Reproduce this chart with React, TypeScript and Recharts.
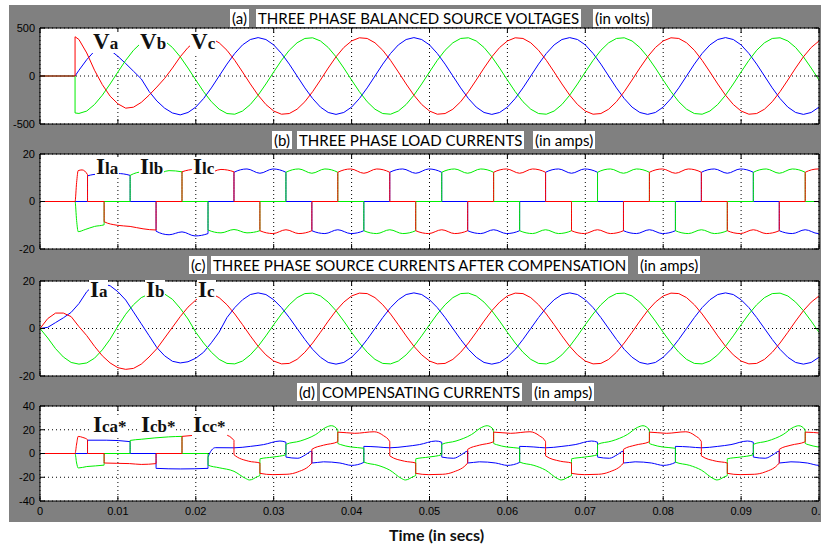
import React from 'react';
import { LineChart, Line, XAxis, YAxis, CartesianGrid } from 'recharts';

const RED = '#ff0000';
const GREEN = '#00ee00';
const BLUE = '#0000ff';
const FRAME = '#000';

const timeTicks = [0, 0.01, 0.02, 0.03, 0.04, 0.05, 0.06, 0.07, 0.08, 0.09, 0.1];
const timeTickLabels = ['0', '0.01', '0.02', '0.03', '0.04', '0.05', '0.06', '0.07', '0.08', '0.09', '0.1'];

// (a) source voltages, sampled every ms from 5 ms (after the switch-on at 4.5 ms)
const voltTime = [0, 0.0045, 0.0045, ...Array.from({ length: 96 }, (_, i) => (5 + i) / 1000)];
const va = [0, 0, 0,
  60, 170, 260, 290, 270,
  205, 130, 50, -30, -160, -260, -335, -385, -405, -380,
  -324, -235, -124, 0, 124, 235, 324, 380, 400, 380,
  324, 235, 124, 0, -124, -235, -324, -380, -400, -380,
  -324, -235, -124, 0, 124, 235, 324, 380, 400, 380,
  324, 235, 124, 0, -124, -235, -324, -380, -400, -380,
  -324, -235, -124, 0, 124, 235, 324, 380, 400, 380,
  324, 235, 124, 0, -124, -235, -324, -380, -400, -380,
  -324, -235, -124, 0, 124, 235, 324, 380, 400, 380,
  324, 235, 124, 0, -124, -235, -324, -380, -400, -380,
  -324];
const vb = [0, 0, -385,
  -390, -365, -297, -200, -83,
  42, 163, 268, 346, 391, 398, 365, 297, 200, 83,
  -42, -163, -268, -346, -391, -398, -365, -297, -200, -83,
  42, 163, 268, 346, 391, 398, 365, 297, 200, 83,
  -42, -163, -268, -346, -391, -398, -365, -297, -200, -83,
  42, 163, 268, 346, 391, 398, 365, 297, 200, 83,
  -42, -163, -268, -346, -391, -398, -365, -297, -200, -83,
  42, 163, 268, 346, 391, 398, 365, 297, 200, 83,
  -42, -163, -268, -346, -391, -398, -365, -297, -200, -83,
  42, 163, 268, 346, 391, 398, 365, 297, 200, 83,
  -42];
const vc = [0, 0, 409,
  380, 240, 60, -90, -210,
  -290, -335, -325, -275, -200, -115, -25, 83, 200, 297,
  365, 398, 391, 346, 268, 163, 42, -83, -200, -297,
  -365, -398, -391, -346, -268, -163, -42, 83, 200, 297,
  365, 398, 391, 346, 268, 163, 42, -83, -200, -297,
  -365, -398, -391, -346, -268, -163, -42, 83, 200, 297,
  365, 398, 391, 346, 268, 163, 42, -83, -200, -297,
  -365, -398, -391, -346, -268, -163, -42, 83, 200, 297,
  365, 398, 391, 346, 268, 163, 42, -83, -200, -297,
  -365, -398, -391, -346, -268, -163, -42, 83, 200, 297,
  365];

// (b) load currents, [time, amps]
const ila: [number, number][] = [
  [0, 0], [0.0061, 0], [0.0061, 10.8], [0.0075, 11.5], [0.0085, 10.8], [0.0099, 11.8], [0.01157, 11], [0.01157, 0],
  [0.0149, 0], [0.0149, -12.5], [0.01657, -14], [0.01823, -12.8], [0.0199, -14.5], [0.02157, -13.5], [0.02157, 0],
  [0.0249, 0], [0.0249, 12.3], [0.02657, 13.7], [0.02823, 11.9], [0.0299, 13.7], [0.03157, 12.3], [0.03157, 0],
  [0.0349, 0], [0.0349, -12.3], [0.03657, -13.5], [0.03823, -11.9], [0.0399, -13.5], [0.04157, -12.3], [0.04157, 0],
  [0.0449, 0], [0.0449, 12.3], [0.04657, 13.7], [0.04823, 11.9], [0.0499, 13.7], [0.05157, 12.3], [0.05157, 0],
  [0.0549, 0], [0.0549, -12.3], [0.05657, -13.5], [0.05823, -11.9], [0.0599, -13.5], [0.06157, -12.3], [0.06157, 0],
  [0.0649, 0], [0.0649, 12.3], [0.06657, 13.7], [0.06823, 11.9], [0.0699, 13.7], [0.07157, 12.3], [0.07157, 0],
  [0.0749, 0], [0.0749, -12.3], [0.07657, -13.5], [0.07823, -11.9], [0.0799, -13.5], [0.08157, -12.3], [0.08157, 0],
  [0.0849, 0], [0.0849, 12.3], [0.08657, 13.7], [0.08823, 11.9], [0.0899, 13.7], [0.09157, 12.3], [0.09157, 0],
  [0.0949, 0], [0.0949, -12.3], [0.09657, -13.5], [0.09823, -11.9], [0.0999, -13.5], [0.1016, -12.3],
];
const ilb: [number, number][] = [
  [0, 0], [0.0045, 0], [0.0047, -8], [0.0049, -12.7], [0.0058, -11.8], [0.007, -10.5], [0.00823, -9.8], [0.00823, 0],
  [0.01157, 0], [0.01157, 11], [0.01323, 12.5], [0.0149, 11.5], [0.01657, 13], [0.01823, 12.5], [0.01823, 0],
  [0.02157, 0], [0.02157, -12], [0.02323, -13.2], [0.0249, -11.8], [0.02657, -13.2], [0.02823, -12.3], [0.02823, 0],
  [0.03157, 0], [0.03157, 12.3], [0.03323, 13.7], [0.0349, 11.9], [0.03657, 13.7], [0.03823, 12.3], [0.03823, 0],
  [0.04157, 0], [0.04157, -12.3], [0.04323, -13.5], [0.0449, -11.9], [0.04657, -13.5], [0.04823, -12.3], [0.04823, 0],
  [0.05157, 0], [0.05157, 12.3], [0.05323, 13.7], [0.0549, 11.9], [0.05657, 13.7], [0.05823, 12.3], [0.05823, 0],
  [0.06157, 0], [0.06157, -12.3], [0.06323, -13.5], [0.0649, -11.9], [0.06657, -13.5], [0.06823, -12.3], [0.06823, 0],
  [0.07157, 0], [0.07157, 12.3], [0.07323, 13.7], [0.0749, 11.9], [0.07657, 13.7], [0.07823, 12.3], [0.07823, 0],
  [0.08157, 0], [0.08157, -12.3], [0.08323, -13.5], [0.0849, -11.9], [0.08657, -13.5], [0.08823, -12.3], [0.08823, 0],
  [0.09157, 0], [0.09157, 12.3], [0.09323, 13.7], [0.0949, 11.9], [0.09657, 13.7], [0.09823, 12.3], [0.09823, 0], [0.1016, 0],
];
const ilc: [number, number][] = [
  [0, 0], [0.0045, 0], [0.0047, 8], [0.0049, 13], [0.0054, 13.3], [0.0061, 11.3], [0.0061, 0],
  [0.00823, 0], [0.00823, -8.5], [0.0099, -10], [0.01157, -10.5], [0.01323, -11.5], [0.0149, -12], [0.0149, 0],
  [0.01823, 0], [0.01823, 12.5], [0.0199, 13.5], [0.02157, 12], [0.02323, 13.5], [0.0249, 12.5], [0.0249, 0],
  [0.02823, 0], [0.02823, -12.3], [0.0299, -13.5], [0.03157, -11.9], [0.03323, -13.5], [0.0349, -12.3], [0.0349, 0],
  [0.03823, 0], [0.03823, 12.3], [0.0399, 13.7], [0.04157, 11.9], [0.04323, 13.7], [0.0449, 12.3], [0.0449, 0],
  [0.04823, 0], [0.04823, -12.3], [0.0499, -13.5], [0.05157, -11.9], [0.05323, -13.5], [0.0549, -12.3], [0.0549, 0],
  [0.05823, 0], [0.05823, 12.3], [0.0599, 13.7], [0.06157, 11.9], [0.06323, 13.7], [0.0649, 12.3], [0.0649, 0],
  [0.06823, 0], [0.06823, -12.3], [0.0699, -13.5], [0.07157, -11.9], [0.07323, -13.5], [0.0749, -12.3], [0.0749, 0],
  [0.07823, 0], [0.07823, 12.3], [0.0799, 13.7], [0.08157, 11.9], [0.08323, 13.7], [0.0849, 12.3], [0.0849, 0],
  [0.08823, 0], [0.08823, -12.3], [0.0899, -13.5], [0.09157, -11.9], [0.09323, -13.5], [0.0949, -12.3], [0.0949, 0],
  [0.09823, 0], [0.09823, 12.3], [0.0999, 13.7], [0.1016, 12],
];

// (c) source currents after compensation, every ms from 0
const srcTime = Array.from({ length: 101 }, (_, i) => i / 1000);
const isa = [
  0, 0.5, 2.5, 4.5, 6.8, 10.5, 15.5, 18.5, 18.8, 18,
  15.5, 12, 7, 2, -3, -8, -11.5, -13.8, -14.5, -14,
  -12.5, -10, -6, -1.5, 4.6, 8.8, 12.1, 14.3, 15, 14.3,
  12.1, 8.8, 4.6, 0, -4.6, -8.8, -12.1, -14.3, -15, -14.3,
  -12.1, -8.8, -4.6, 0, 4.6, 8.8, 12.1, 14.3, 15, 14.3,
  12.1, 8.8, 4.6, 0, -4.6, -8.8, -12.1, -14.3, -15, -14.3,
  -12.1, -8.8, -4.6, 0, 4.6, 8.8, 12.1, 14.3, 15, 14.3,
  12.1, 8.8, 4.6, 0, -4.6, -8.8, -12.1, -14.3, -15, -14.3,
  -12.1, -8.8, -4.6, 0, 4.6, 8.8, 12.1, 14.3, 15, 14.3,
  12.1, 8.8, 4.6, 0, -4.6, -8.8, -12.1, -14.3, -15, -14.3,
  -12.1];
const isb = [
  0, -4, -8.5, -12, -14.3, -15, -14.5, -12.5, -9, -4.5,
  1, 6, 10, 13, 14.5, 15, 14.5, 12.3, 8.5, 4,
  -1.6, -6.1, -10, -13, -14.7, -14.9, -13.7, -11.1, -7.5, -3.1,
  1.6, 6.1, 10, 13, 14.7, 14.9, 13.7, 11.1, 7.5, 3.1,
  -1.6, -6.1, -10, -13, -14.7, -14.9, -13.7, -11.1, -7.5, -3.1,
  1.6, 6.1, 10, 13, 14.7, 14.9, 13.7, 11.1, 7.5, 3.1,
  -1.6, -6.1, -10, -13, -14.7, -14.9, -13.7, -11.1, -7.5, -3.1,
  1.6, 6.1, 10, 13, 14.7, 14.9, 13.7, 11.1, 7.5, 3.1,
  -1.6, -6.1, -10, -13, -14.7, -14.9, -13.7, -11.1, -7.5, -3.1,
  1.6, 6.1, 10, 13, 14.7, 14.9, 13.7, 11.1, 7.5, 3.1,
  -1.6];
const isc = [
  0, 4.2, 6.5, 6.5, 5, 0.8, -3, -7.5, -11.5, -14.5,
  -16.5, -17.2, -16.8, -15, -12, -8.5, -4, 0.5, 5, 9,
  12, 14, 14.7, 13, 10, 6.1, 1.6, -3.1, -7.5, -11.1,
  -13.7, -14.9, -14.7, -13, -10, -6.1, -1.6, 3.1, 7.5, 11.1,
  13.7, 14.9, 14.7, 13, 10, 6.1, 1.6, -3.1, -7.5, -11.1,
  -13.7, -14.9, -14.7, -13, -10, -6.1, -1.6, 3.1, 7.5, 11.1,
  13.7, 14.9, 14.7, 13, 10, 6.1, 1.6, -3.1, -7.5, -11.1,
  -13.7, -14.9, -14.7, -13, -10, -6.1, -1.6, 3.1, 7.5, 11.1,
  13.7, 14.9, 14.7, 13, 10, 6.1, 1.6, -3.1, -7.5, -11.1,
  -13.7, -14.9, -14.7, -13, -10, -6.1, -1.6, 3.1, 7.5, 11.1,
  13.7];

// (d) compensating currents, [time, amps]
const ica: [number, number][] = [
  [0, 0], [0.0061, 0], [0.0061, 11.2], [0.0085, 11.2], [0.01157, 10], [0.01157, 0], [0.0149, 0], [0.0149, -12.5],
  [0.018, -13], [0.02157, -12.5], [0.02157, -3], [0.0225, 4.9],
  [0.0249, 4.8], [0.027, 6], [0.0287, 7.5], [0.0308, 10.5], [0.03157, 9.5], [0.03157, -3], [0.0331, -4], [0.0341, -1],
  [0.0349, 2], [0.0349, -8], [0.0364, -7], [0.0385, -8], [0.04, -10], [0.04157, -7.5], [0.04157, 6], [0.0434, 5.5],
  [0.0449, 4.8], [0.047, 6], [0.0487, 7.5], [0.0508, 10.5], [0.05157, 9.5], [0.05157, -3], [0.0531, -4], [0.0541, -1],
  [0.0549, 2], [0.0549, -8], [0.0564, -7], [0.0585, -8], [0.06, -10], [0.06157, -7.5], [0.06157, 6], [0.0634, 5.5],
  [0.0649, 4.8], [0.067, 6], [0.0687, 7.5], [0.0708, 10.5], [0.07157, 9.5], [0.07157, -3], [0.0731, -4], [0.0741, -1],
  [0.0749, 2], [0.0749, -8], [0.0764, -7], [0.0785, -8], [0.08, -10], [0.08157, -7.5], [0.08157, 6], [0.0834, 5.5],
  [0.0849, 4.8], [0.087, 6], [0.0887, 7.5], [0.0908, 10.5], [0.09157, 9.5], [0.09157, -3], [0.0931, -4], [0.0941, -1],
  [0.0949, 2], [0.0949, -8], [0.0964, -7], [0.0985, -8], [0.1, -10], [0.1016, -7.5],
];
const icb: [number, number][] = [
  [0, 0], [0.0045, 0], [0.0047, -8], [0.0049, -12.2], [0.006, -11], [0.00823, -9.8], [0.00823, 0], [0.01157, 0],
  [0.01157, 11], [0.013, 12], [0.0165, 14], [0.01823, 14.4], [0.01823, 0], [0.02157, 0], [0.02157, -9.8], [0.023, -12],
  [0.0249, -15], [0.0264, -21], [0.0269, -22.3], [0.0279, -19.5], [0.02823, -18.5], [0.02823, -4.5], [0.0299, -3],
  [0.03157, -1], [0.03157, 7.7], [0.0334, 10.5], [0.0354, 16], [0.0367, 22], [0.0374, 23.4], [0.03823, 20],
  [0.03823, 8.5], [0.0386, 7.5], [0.0399, 5.5], [0.04157, 4.4], [0.04157, -7.2], [0.0434, -10],
  [0.0449, -14], [0.0464, -21], [0.0469, -22.3], [0.0479, -19.5], [0.04823, -18.5], [0.04823, -4.5], [0.0499, -3],
  [0.05157, -1], [0.05157, 7.7], [0.0534, 10.5], [0.0554, 16], [0.0567, 22], [0.0574, 23.4], [0.05823, 20],
  [0.05823, 8.5], [0.0586, 7.5], [0.0599, 5.5], [0.06157, 4.4], [0.06157, -7.2], [0.0634, -10],
  [0.0649, -14], [0.0664, -21], [0.0669, -22.3], [0.0679, -19.5], [0.06823, -18.5], [0.06823, -4.5], [0.0699, -3],
  [0.07157, -1], [0.07157, 7.7], [0.0734, 10.5], [0.0754, 16], [0.0767, 22], [0.0774, 23.4], [0.07823, 20],
  [0.07823, 8.5], [0.0786, 7.5], [0.0799, 5.5], [0.08157, 4.4], [0.08157, -7.2], [0.0834, -10],
  [0.0849, -14], [0.0864, -21], [0.0869, -22.3], [0.0879, -19.5], [0.08823, -18.5], [0.08823, -4.5], [0.0899, -3],
  [0.09157, -1], [0.09157, 7.7], [0.0934, 10.5], [0.0954, 16], [0.0967, 22], [0.0974, 23.4], [0.09823, 20],
  [0.09823, 8.5], [0.0986, 7.5], [0.0999, 5.5], [0.1016, 4.4],
];
const icc: [number, number][] = [
  [0, 0], [0.0045, 0], [0.0047, 8], [0.0049, 14.4], [0.0055, 13.5], [0.0061, 11.6], [0.0061, 0], [0.00823, 0],
  [0.00823, -8], [0.0115, -8.5], [0.013, -9.2], [0.0149, -8.5], [0.0149, 0], [0.01823, 0], [0.01823, 14.4],
  [0.021, 15.5], [0.0238, 15.5], [0.0249, 11],
  [0.0249, -1], [0.0268, -6.5], [0.02823, -8], [0.02823, -16.7], [0.0299, -17.8], [0.0317, -17.5], [0.0331, -15.5],
  [0.0349, -8], [0.0349, 3.5], [0.0364, 7], [0.03823, 9.9], [0.03823, 18], [0.0404, 17], [0.0429, 18.3], [0.0441, 15],
  [0.0449, 10], [0.0449, -2], [0.0468, -6.5], [0.04823, -8], [0.04823, -16.7], [0.0499, -17.8], [0.0517, -17.5],
  [0.0531, -15.5], [0.0549, -8], [0.0549, 3.5], [0.0564, 7], [0.05823, 9.9], [0.05823, 18], [0.0604, 17],
  [0.0629, 18.3], [0.0641, 15], [0.0649, 10], [0.0649, -2], [0.0668, -6.5], [0.06823, -8], [0.06823, -16.7],
  [0.0699, -17.8], [0.0717, -17.5], [0.0731, -15.5], [0.0749, -8], [0.0749, 3.5], [0.0764, 7], [0.07823, 9.9],
  [0.07823, 18], [0.0804, 17], [0.0829, 18.3], [0.0841, 15], [0.0849, 10], [0.0849, -2], [0.0868, -6.5],
  [0.08823, -8], [0.08823, -16.7], [0.0899, -17.8], [0.0917, -17.5], [0.0931, -15.5], [0.0949, -8], [0.0949, 3.5],
  [0.0964, 7], [0.09823, 9.9], [0.09823, 18], [0.1004, 17],
];

const toRows = (pairs: [number, number][]) => pairs.map(([t, v]) => ({ t, v }));
const voltRows = voltTime.map((t, i) => ({ t, a: va[i], b: vb[i], c: vc[i] }));
const srcRows = srcTime.map((t, i) => ({ t, a: isa[i], b: isb[i], c: isc[i] }));

const tickFont = { fontSize: 11, fill: '#000', fontFamily: '"Liberation Sans", Arial, sans-serif' };
const blank = () => '';

type Series = { key: string; color: string; data?: { t: number; v: number }[] };

function Panel(props: {
  top: number; height: number; plotTop: number; plotBottom: number;
  domain: [number, number]; ticks: number[]; data?: any[]; series: Series[];
  curve: 'linear' | 'monotone'; showTime?: boolean;
}) {
  const { top, height, plotTop, plotBottom, domain, ticks, data, series, curve, showTime } = props;
  const xh = showTime ? 20 : 1;
  return (
    <div style={{ position: 'absolute', left: 0, top, width: 821, height }}>
      <LineChart width={821} height={height} data={data}
        margin={{ top: plotTop - 1, right: 1, bottom: plotBottom - xh, left: 0 }}>
        <CartesianGrid fill="#fff" stroke="#000" strokeDasharray="1 3" />
        <XAxis xAxisId={0} dataKey="t" type="number" domain={[0, 0.1]} ticks={timeTicks} allowDataOverflow
          orientation="bottom" height={xh} tickSize={-5} tickMargin={showTime ? 11 : 0} interval={0}
          tickFormatter={showTime ? (v: number) => timeTickLabels[timeTicks.indexOf(v)] ?? '' : blank}
          tick={tickFont} axisLine={{ stroke: FRAME }} tickLine={{ stroke: FRAME }} />
        <XAxis xAxisId="top" dataKey="t" type="number" domain={[0, 0.1]} ticks={timeTicks} allowDataOverflow
          orientation="top" height={1} tickSize={-5} interval={0} tickFormatter={blank}
          axisLine={{ stroke: FRAME }} tickLine={{ stroke: FRAME }} />
        <YAxis yAxisId={0} domain={domain} ticks={ticks} allowDataOverflow width={40} tickSize={-5}
          tickMargin={10} interval={0} tick={tickFont} axisLine={{ stroke: FRAME }} tickLine={{ stroke: FRAME }} />
        <YAxis yAxisId="right" orientation="right" domain={domain} ticks={ticks} allowDataOverflow width={1}
          tickSize={-5} interval={0} tickFormatter={blank} axisLine={{ stroke: FRAME }} tickLine={{ stroke: FRAME }} />
        {series.map((s) => (
          <Line key={s.key} xAxisId={0} yAxisId={0} data={s.data} dataKey={s.data ? 'v' : s.key} type={curve}
            stroke={s.color} strokeWidth={1} dot={false} activeDot={false} isAnimationActive={false} />
        ))}
      </LineChart>
    </div>
  );
}

const titleFont = 'Lato, "Open Sans", sans-serif';

function TitleRow({ top, parts }: { top: number; parts: [number, string][] }) {
  return (
    <>
      {parts.map(([left, text]) => (
        <div key={text} style={{
          position: 'absolute', left, top, height: 18, lineHeight: '18px', padding: '0 2px',
          background: '#fff', color: '#000', fontFamily: titleFont, fontSize: 15, whiteSpace: 'nowrap',
        }}>{text}</div>
      ))}
    </>
  );
}

function CurveLabel({ left, baseline, main, sub }: { left: number; baseline: number; main: string; sub: string }) {
  return (
    <div style={{
      position: 'absolute', left, top: baseline - 18, height: 21, lineHeight: '20px', padding: '0 1px',
      background: '#fff', color: '#111', fontFamily: '"Liberation Serif", "DejaVu Serif", serif',
      fontWeight: 'bold', fontSize: 23, whiteSpace: 'nowrap',
    }}>
      <span>{main}</span><span style={{ fontSize: 17 }}>{sub}</span>
    </div>
  );
}

export default function App() {
  return (
    <div style={{ position: 'absolute', left: 0, top: 0, width: 821, height: 546, background: '#fff', overflow: 'hidden' }}>
      <div style={{ position: 'absolute', left: 9, top: 5, width: 812, height: 517, background: '#808080' }} />

      <Panel top={0} height={140} plotTop={28} plotBottom={16} domain={[-500, 500]} ticks={[-500, 0, 500]}
        data={voltRows} curve="linear"
        series={[{ key: 'a', color: BLUE }, { key: 'b', color: GREEN }, { key: 'c', color: RED }]} />
      <Panel top={140} height={120} plotTop={14} plotBottom={11} domain={[-20, 20]} ticks={[-20, 0, 20]}
        curve="monotone"
        series={[{ key: 'la', color: BLUE, data: toRows(ila) }, { key: 'lb', color: GREEN, data: toRows(ilb) },
          { key: 'lc', color: RED, data: toRows(ilc) }]} />
      <Panel top={265} height={120} plotTop={16} plotBottom={9} domain={[-20, 20]} ticks={[-20, 0, 20]}
        data={srcRows} curve="linear"
        series={[{ key: 'a', color: BLUE }, { key: 'b', color: GREEN }, { key: 'c', color: RED }]} />
      <Panel top={390} height={140} plotTop={16} plotBottom={29} domain={[-40, 40]} ticks={[-40, -20, 0, 20, 40]}
        curve="monotone" showTime
        series={[{ key: 'ca', color: BLUE, data: toRows(ica) }, { key: 'cb', color: GREEN, data: toRows(icb) },
          { key: 'cc', color: RED, data: toRows(icc) }]} />

      <TitleRow top={9} parts={[[230, '(a)'], [256, 'THREE PHASE BALANCED SOURCE VOLTAGES'], [593, '(in volts)']]} />
      <TitleRow top={131} parts={[[272, '(b)'], [297, 'THREE PHASE LOAD CURRENTS'], [533, '(in amps)']]} />
      <TitleRow top={256} parts={[[189, '(c)'], [211, 'THREE PHASE SOURCE CURRENTS AFTER COMPENSATION'], [638, '(in amps)']]} />
      <TitleRow top={383} parts={[[297, '(d)'], [320, 'COMPENSATING CURRENTS'], [532, '(in amps)']]} />

      <CurveLabel left={92} baseline={50} main="V" sub="a" />
      <CurveLabel left={139} baseline={50} main="V" sub="b" />
      <CurveLabel left={190} baseline={50} main="V" sub="c" />
      <CurveLabel left={95} baseline={175} main="I" sub="la" />
      <CurveLabel left={139} baseline={175} main="I" sub="lb" />
      <CurveLabel left={192} baseline={175} main="I" sub="lc" />
      <CurveLabel left={89} baseline={298} main="I" sub="a" />
      <CurveLabel left={145} baseline={298} main="I" sub="b" />
      <CurveLabel left={197} baseline={298} main="I" sub="c" />
      <CurveLabel left={92} baseline={433} main="I" sub="ca*" />
      <CurveLabel left={140} baseline={433} main="I" sub="cb*" />
      <CurveLabel left={192} baseline={433} main="I" sub="cc*" />

      <div style={{ position: 'absolute', left: 389, top: 525, fontFamily: titleFont, fontWeight: 'bold', fontSize: 16, color: '#111', whiteSpace: 'nowrap' }}>
        Time (in secs)
      </div>
    </div>
  );
}
